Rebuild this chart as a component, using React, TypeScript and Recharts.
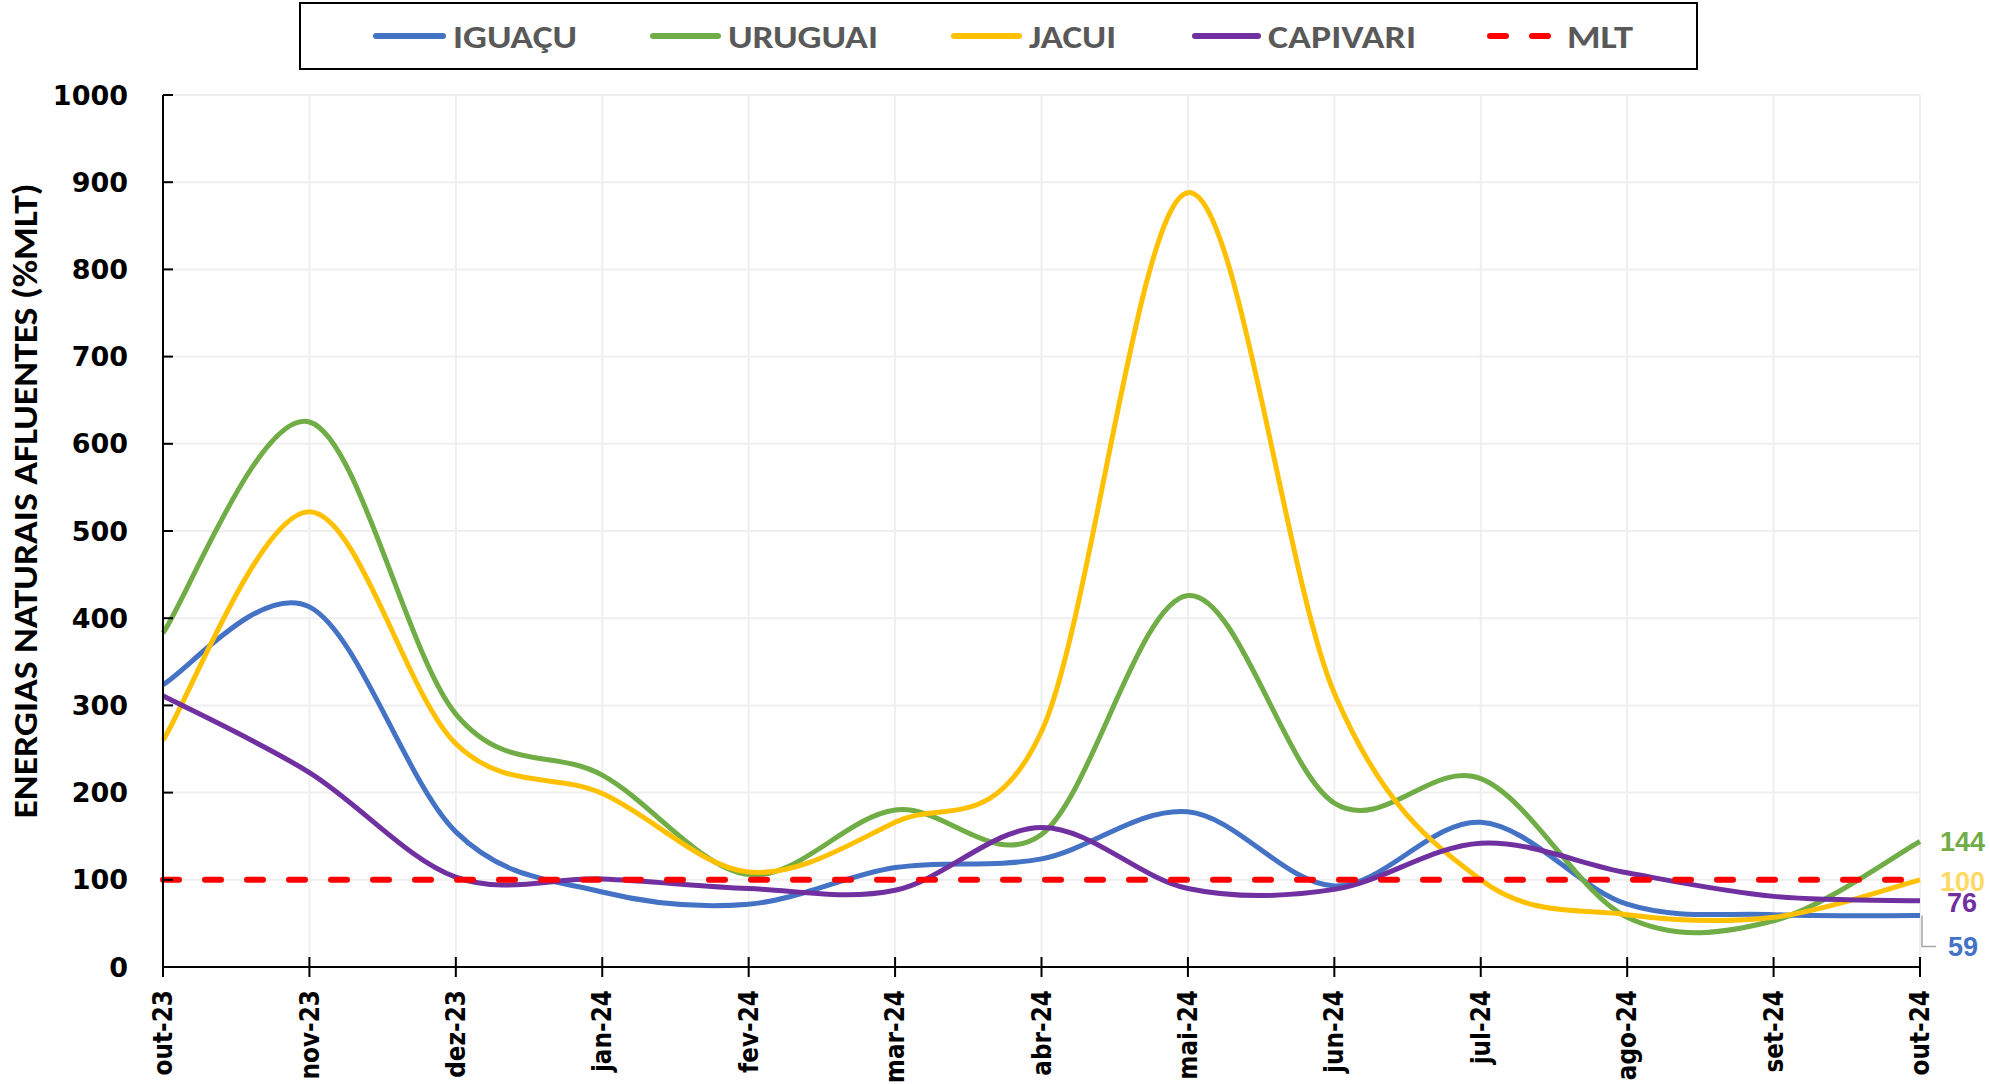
import React from "react";
import { LineChart, Line, XAxis, YAxis, CartesianGrid, LabelList } from "recharts";

const months = ["out-23", "nov-23", "dez-23", "jan-24", "fev-24", "mar-24", "abr-24", "mai-24", "jun-24", "jul-24", "ago-24", "set-24", "out-24"];
const iguacu = [324, 413, 155, 86, 72, 114, 124, 178, 93, 166, 72, 60, 59];
const uruguai = [383, 625, 290, 220, 106, 180, 152, 426, 188, 216, 57, 53, 144];
const jacui = [260, 522, 256, 199, 109, 166, 270, 888, 314, 100, 60, 57, 100];
const capivari = [311, 223, 103, 101, 90, 88, 160, 90, 89, 142, 108, 81, 76];
const mlt = [100, 100, 100, 100, 100, 100, 100, 100, 100, 100, 100, 100, 100];
const yTicks = [0, 100, 200, 300, 400, 500, 600, 700, 800, 900, 1000];

const data = months.map((m, i) => ({
  month: m,
  iguacu: iguacu[i],
  uruguai: uruguai[i],
  jacui: jacui[i],
  capivari: capivari[i],
  mlt: mlt[i],
}));

const BLUE = "#4472C4";
const GREEN = "#70AD47";
const YELLOW = "#FFC000";
const PURPLE = "#7030A0";
const RED = "#FF0000";

const TICK_FONT = '"DejaVu Sans", Verdana, sans-serif';
const LABEL_FONT = 'Carlito, Lato, "Liberation Sans", sans-serif';

// Excel-like smoothed line: Catmull-Rom through every point, drawn as beziers
const excelSmooth = (context: any) => {
  let px: number[] = [];
  let py: number[] = [];
  return {
    areaStart() {},
    areaEnd() {},
    lineStart() {
      px = [];
      py = [];
    },
    point(x: number, y: number) {
      px.push(+x);
      py.push(+y);
    },
    lineEnd() {
      const n = px.length;
      if (n === 0) return;
      context.moveTo(px[0], py[0]);
      for (let i = 0; i < n - 1; i++) {
        const a = Math.max(i - 1, 0);
        const d = Math.min(i + 2, n - 1);
        context.bezierCurveTo(
          px[i] + (px[i + 1] - px[a]) / 6,
          py[i] + (py[i + 1] - py[a]) / 6,
          px[i + 1] - (px[d] - px[i]) / 6,
          py[i + 1] - (py[d] - py[i]) / 6,
          px[i + 1],
          py[i + 1]
        );
      }
    },
  };
};

function YTick({ x, y, payload }: any) {
  return (
    <g>
      <line x1={x} x2={x + 10} y1={y} y2={y} stroke="#000" strokeWidth={2} />
      <text
        x={x - 35}
        y={y}
        textAnchor="end"
        dominantBaseline="central"
        fontFamily={TICK_FONT}
        fontWeight="bold"
        fontSize={27}
        fill="#000"
      >
        {payload.value}
      </text>
    </g>
  );
}

function XTick({ x, y, payload }: any) {
  return (
    <g>
      <line x1={x} x2={x} y1={y - 10} y2={y + 10} stroke="#000" strokeWidth={2} />
      <text
        transform={`translate(${x}, ${y + 23}) rotate(-90) scale(0.86, 1)`}
        textAnchor="end"
        dominantBaseline="central"
        fontFamily={TICK_FONT}
        fontWeight="bold"
        fontSize={27}
        fill="#000"
      >
        {payload.value}
      </text>
    </g>
  );
}

function YTitle({ viewBox }: any) {
  const cx = viewBox.x + 25;
  const cy = viewBox.y + viewBox.height / 2 - 30;
  return (
    <text
      transform={`translate(${cx}, ${cy}) rotate(-90)`}
      textAnchor="middle"
      dominantBaseline="central"
      fontFamily={LABEL_FONT}
      fontWeight="bold"
      fontSize={34}
      fill="#000"
      textLength={635}
      lengthAdjust="spacingAndGlyphs"
    >
      ENERGIAS NATURAIS AFLUENTES (%MLT)
    </text>
  );
}

function endLabel(color: string, dx: number, dy: number, leader = false) {
  return (props: any) => {
    if (props.index !== months.length - 1) return null;
    const x = props.viewBox?.x ?? props.x;
    const y = props.viewBox?.y ?? props.y;
    return (
      <g>
        {leader && (
          <polyline
            points={`${x + 2},${y} ${x + 2},${y + dy} ${x + 16},${y + dy}`}
            fill="none"
            stroke="#A6A6A6"
            strokeWidth={1.5}
          />
        )}
        <text
          x={x + dx}
          y={y + dy}
          dominantBaseline="central"
          fontFamily='"Liberation Sans", Arial, sans-serif'
          fontWeight="bold"
          fontSize={27}
          fill={color}
        >
          {props.value}
        </text>
      </g>
    );
  };
}

const legendItems = [
  { name: "IGUAÇU", color: BLUE, x1: 376, x2: 443, tx: 453, len: 124, dashed: false },
  { name: "URUGUAI", color: GREEN, x1: 653, x2: 718, tx: 728, len: 150, dashed: false },
  { name: "JACUI", color: YELLOW, x1: 954, x2: 1019, tx: 1029, len: 87, dashed: false },
  { name: "CAPIVARI", color: PURPLE, x1: 1195, x2: 1258, tx: 1268, len: 148, dashed: false },
  { name: "MLT", color: RED, x1: 1490, x2: 1550, tx: 1567, len: 66, dashed: true },
];

function LegendBox() {
  return (
    <svg
      width={1990}
      height={80}
      style={{ position: "absolute", left: 0, top: 0, pointerEvents: "none" }}
    >
      <rect x={300} y={3} width={1397} height={66} fill="#fff" stroke="#000" strokeWidth={2} />
      {legendItems.map((it) => (
        <g key={it.name}>
          <line
            x1={it.x1}
            x2={it.x2}
            y1={36}
            y2={36}
            stroke={it.color}
            strokeWidth={6}
            strokeLinecap="round"
            strokeDasharray={it.dashed ? "16 26" : undefined}
          />
          <text
            x={it.tx}
            y={37}
            dominantBaseline="central"
            fontFamily={LABEL_FONT}
            fontWeight="bold"
            fontSize={33}
            fill="#595959"
            textLength={it.len}
            lengthAdjust="spacingAndGlyphs"
          >
            {it.name}
          </text>
        </g>
      ))}
    </svg>
  );
}

export default function App() {
  return (
    <div style={{ position: "absolute", left: 0, top: 0, width: 1990, height: 1084, background: "#fff" }}>
      <LineChart
        width={1990}
        height={1084}
        data={data}
        margin={{ top: 95, right: 70, left: 0, bottom: 0 }}
      >
        <CartesianGrid stroke="#EFEFEF" strokeWidth={2} />
        <XAxis
          dataKey="month"
          interval={0}
          height={117}
          tickSize={0}
          tickMargin={0}
          tickLine={false}
          axisLine={{ stroke: "#000", strokeWidth: 2 }}
          tick={<XTick />}
        />
        <YAxis
          type="number"
          domain={[0, 1000]}
          ticks={yTicks}
          width={163}
          tickSize={0}
          tickMargin={0}
          tickLine={false}
          axisLine={{ stroke: "#000", strokeWidth: 2 }}
          tick={<YTick />}
          label={{ content: (p: any) => <YTitle {...p} /> }}
        />
        <Line dataKey="iguacu" name="IGUAÇU" type={excelSmooth as any} stroke={BLUE} strokeWidth={5} dot={false} activeDot={false} isAnimationActive={false}>
          <LabelList dataKey="iguacu" content={endLabel(BLUE, 28, 31, true)} />
        </Line>
        <Line dataKey="uruguai" name="URUGUAI" type={excelSmooth as any} stroke={GREEN} strokeWidth={5} dot={false} activeDot={false} isAnimationActive={false}>
          <LabelList dataKey="uruguai" content={endLabel(GREEN, 20, 1)} />
        </Line>
        <Line dataKey="jacui" name="JACUI" type={excelSmooth as any} stroke={YELLOW} strokeWidth={5} dot={false} activeDot={false} isAnimationActive={false}>
          <LabelList dataKey="jacui" content={endLabel("#FFD966", 20, 2)} />
        </Line>
        <Line dataKey="capivari" name="CAPIVARI" type={excelSmooth as any} stroke={PURPLE} strokeWidth={5} dot={false} activeDot={false} isAnimationActive={false}>
          <LabelList dataKey="capivari" content={endLabel(PURPLE, 27, 2)} />
        </Line>
        <Line dataKey="mlt" name="MLT" type="linear" stroke={RED} strokeWidth={6} strokeDasharray="16 26" strokeLinecap="round" dot={false} activeDot={false} isAnimationActive={false} />
      </LineChart>
      <LegendBox />
    </div>
  );
}
